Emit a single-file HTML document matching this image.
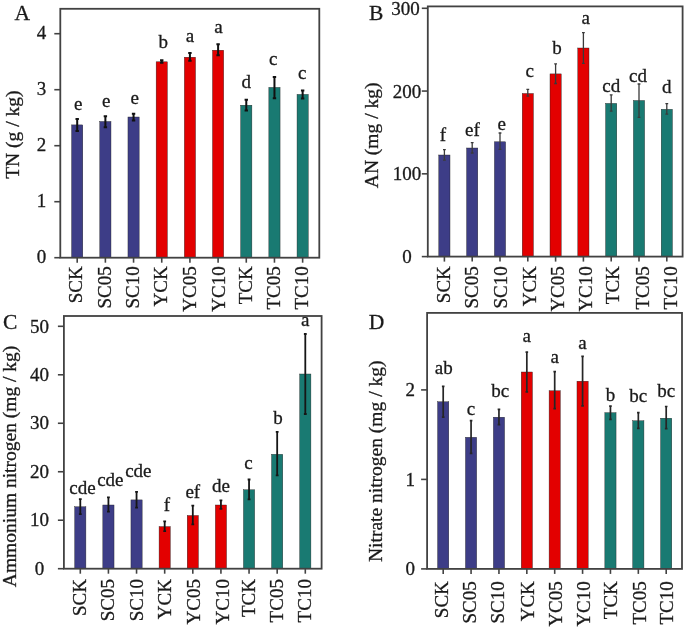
<!DOCTYPE html>
<html><head><meta charset="utf-8"><title>Nitrogen bar charts</title>
<style>
html,body{margin:0;padding:0;background:#fff;}
svg{display:block;filter:blur(0.6px);}
text{font-family:"Liberation Serif", serif;font-size:19px;fill:#1a1a1a;stroke:#1a1a1a;stroke-width:0.3px;}
</style></head>
<body>
<svg width="685" height="629" viewBox="0 0 685 629">
<rect width="685" height="629" fill="#fff"/>
<rect x="71.60" y="124.90" width="11.2" height="132.80" fill="#3d3d87" stroke="#222" stroke-width="0.4"/>
<rect x="99.78" y="121.50" width="11.2" height="136.20" fill="#3d3d87" stroke="#222" stroke-width="0.4"/>
<rect x="127.96" y="117.00" width="11.2" height="140.70" fill="#3d3d87" stroke="#222" stroke-width="0.4"/>
<rect x="156.14" y="61.80" width="11.2" height="195.90" fill="#e30000" stroke="#222" stroke-width="0.4"/>
<rect x="184.32" y="57.20" width="11.2" height="200.50" fill="#e30000" stroke="#222" stroke-width="0.4"/>
<rect x="212.50" y="50.20" width="11.2" height="207.50" fill="#e30000" stroke="#222" stroke-width="0.4"/>
<rect x="240.68" y="105.20" width="11.2" height="152.50" fill="#197a72" stroke="#222" stroke-width="0.4"/>
<rect x="268.86" y="87.40" width="11.2" height="170.30" fill="#197a72" stroke="#222" stroke-width="0.4"/>
<rect x="297.04" y="94.40" width="11.2" height="163.30" fill="#197a72" stroke="#222" stroke-width="0.4"/>
<path d="M77.20 118.90V130.90M75.50 118.90H78.90M75.50 130.90H78.90" stroke="#111" stroke-width="2.0" fill="none"/>
<text x="78.10" y="110.20" text-anchor="middle">e</text>
<path d="M105.38 116.30V127.30M103.68 116.30H107.08M103.68 127.30H107.08" stroke="#111" stroke-width="2.0" fill="none"/>
<text x="106.18" y="106.50" text-anchor="middle">e</text>
<path d="M133.56 113.80V120.60M131.86 113.80H135.26M131.86 120.60H135.26" stroke="#111" stroke-width="2.0" fill="none"/>
<text x="134.66" y="103.80" text-anchor="middle">e</text>
<path d="M161.74 60.20V62.70M160.04 60.20H163.44M160.04 62.70H163.44" stroke="#111" stroke-width="2.0" fill="none"/>
<text x="163.34" y="48.00" text-anchor="middle">b</text>
<path d="M189.92 53.10V60.70M188.22 53.10H191.62M188.22 60.70H191.62" stroke="#111" stroke-width="2.0" fill="none"/>
<text x="189.92" y="41.50" text-anchor="middle">a</text>
<path d="M218.10 44.30V55.20M216.40 44.30H219.80M216.40 55.20H219.80" stroke="#111" stroke-width="2.0" fill="none"/>
<text x="218.50" y="33.00" text-anchor="middle">a</text>
<path d="M246.28 99.70V110.40M244.58 99.70H247.98M244.58 110.40H247.98" stroke="#111" stroke-width="2.0" fill="none"/>
<text x="246.28" y="88.00" text-anchor="middle">d</text>
<path d="M274.46 77.00V98.30M272.76 77.00H276.16M272.76 98.30H276.16" stroke="#111" stroke-width="2.0" fill="none"/>
<text x="273.16" y="65.10" text-anchor="middle">c</text>
<path d="M302.64 90.50V98.60M300.94 90.50H304.34M300.94 98.60H304.34" stroke="#111" stroke-width="2.0" fill="none"/>
<text x="302.24" y="79.40" text-anchor="middle">c</text>
<rect x="60.3" y="8.8" width="259.00" height="248.90" fill="none" stroke="#424242" stroke-width="1.8"/>
<path d="M54.30 257.70H60.3" stroke="#424242" stroke-width="1.6"/>
<text x="41.60" y="262.80" text-anchor="middle">0</text>
<path d="M54.30 201.70H60.3" stroke="#424242" stroke-width="1.6"/>
<text x="41.60" y="206.80" text-anchor="middle">1</text>
<path d="M54.30 145.70H60.3" stroke="#424242" stroke-width="1.6"/>
<text x="41.60" y="150.80" text-anchor="middle">2</text>
<path d="M54.30 89.70H60.3" stroke="#424242" stroke-width="1.6"/>
<text x="41.60" y="94.80" text-anchor="middle">3</text>
<path d="M54.30 33.70H60.3" stroke="#424242" stroke-width="1.6"/>
<text x="41.60" y="38.80" text-anchor="middle">4</text>
<path d="M77.20 257.7V262.70" stroke="#424242" stroke-width="1.6"/>
<text transform="translate(82.10 266.30) rotate(-90)" text-anchor="end">SCK</text>
<path d="M105.38 257.7V262.70" stroke="#424242" stroke-width="1.6"/>
<text transform="translate(110.73 266.30) rotate(-90)" text-anchor="end">SC05</text>
<path d="M133.56 257.7V262.70" stroke="#424242" stroke-width="1.6"/>
<text transform="translate(139.46 266.30) rotate(-90)" text-anchor="end">SC10</text>
<path d="M161.74 257.7V262.70" stroke="#424242" stroke-width="1.6"/>
<text transform="translate(167.29 266.30) rotate(-90)" text-anchor="end">YCK</text>
<path d="M189.92 257.7V262.70" stroke="#424242" stroke-width="1.6"/>
<text transform="translate(196.12 266.30) rotate(-90)" text-anchor="end">YC05</text>
<path d="M218.10 257.7V262.70" stroke="#424242" stroke-width="1.6"/>
<text transform="translate(225.00 266.30) rotate(-90)" text-anchor="end">YC10</text>
<path d="M246.28 257.7V262.70" stroke="#424242" stroke-width="1.6"/>
<text transform="translate(251.98 266.30) rotate(-90)" text-anchor="end">TCK</text>
<path d="M274.46 257.7V262.70" stroke="#424242" stroke-width="1.6"/>
<text transform="translate(280.26 266.30) rotate(-90)" text-anchor="end">TC05</text>
<path d="M302.64 257.7V262.70" stroke="#424242" stroke-width="1.6"/>
<text transform="translate(307.74 266.30) rotate(-90)" text-anchor="end">TC10</text>
<text transform="translate(19.2 178.8) rotate(-90)" style="font-size:19.5px">TN (g / kg)</text>
<text x="14.6" y="19.5" style="font-size:21.5px">A</text>
<rect x="438.80" y="155.00" width="11.2" height="101.60" fill="#3d3d87" stroke="#222" stroke-width="0.4"/>
<rect x="466.60" y="148.00" width="11.2" height="108.60" fill="#3d3d87" stroke="#222" stroke-width="0.4"/>
<rect x="494.40" y="141.80" width="11.2" height="114.80" fill="#3d3d87" stroke="#222" stroke-width="0.4"/>
<rect x="522.20" y="93.50" width="11.2" height="163.10" fill="#e30000" stroke="#222" stroke-width="0.4"/>
<rect x="550.00" y="73.90" width="11.2" height="182.70" fill="#e30000" stroke="#222" stroke-width="0.4"/>
<rect x="577.80" y="48.00" width="11.2" height="208.60" fill="#e30000" stroke="#222" stroke-width="0.4"/>
<rect x="605.60" y="103.40" width="11.2" height="153.20" fill="#197a72" stroke="#222" stroke-width="0.4"/>
<rect x="633.40" y="100.50" width="11.2" height="156.10" fill="#197a72" stroke="#222" stroke-width="0.4"/>
<rect x="661.20" y="109.30" width="11.2" height="147.30" fill="#197a72" stroke="#222" stroke-width="0.4"/>
<path d="M444.40 149.70V160.20M443.00 149.70H445.80M443.00 160.20H445.80" stroke="#3a3a3a" stroke-width="1.3" fill="none"/>
<text x="443.00" y="141.20" text-anchor="middle">f</text>
<path d="M472.20 142.60V153.00M470.80 142.60H473.60M470.80 153.00H473.60" stroke="#3a3a3a" stroke-width="1.3" fill="none"/>
<text x="472.50" y="136.00" text-anchor="middle">ef</text>
<path d="M500.00 133.00V149.40M498.60 133.00H501.40M498.60 149.40H501.40" stroke="#3a3a3a" stroke-width="1.3" fill="none"/>
<text x="501.60" y="130.00" text-anchor="middle">e</text>
<path d="M527.80 89.40V96.20M526.40 89.40H529.20M526.40 96.20H529.20" stroke="#3a3a3a" stroke-width="1.3" fill="none"/>
<text x="529.80" y="76.90" text-anchor="middle">c</text>
<path d="M555.60 63.90V83.50M554.20 63.90H557.00M554.20 83.50H557.00" stroke="#3a3a3a" stroke-width="1.3" fill="none"/>
<text x="557.10" y="53.90" text-anchor="middle">b</text>
<path d="M583.40 32.60V63.30M582.00 32.60H584.80M582.00 63.30H584.80" stroke="#3a3a3a" stroke-width="1.3" fill="none"/>
<text x="585.70" y="24.00" text-anchor="middle">a</text>
<path d="M611.20 94.80V111.20M609.80 94.80H612.60M609.80 111.20H612.60" stroke="#3a3a3a" stroke-width="1.3" fill="none"/>
<text x="611.20" y="92.00" text-anchor="middle">cd</text>
<path d="M639.00 84.00V117.40M637.60 84.00H640.40M637.60 117.40H640.40" stroke="#3a3a3a" stroke-width="1.3" fill="none"/>
<text x="638.00" y="81.50" text-anchor="middle">cd</text>
<path d="M666.80 103.60V114.10M665.40 103.60H668.20M665.40 114.10H668.20" stroke="#3a3a3a" stroke-width="1.3" fill="none"/>
<text x="666.80" y="93.30" text-anchor="middle">d</text>
<rect x="427.8" y="6.4" width="254.80" height="250.20" fill="none" stroke="#424242" stroke-width="1.8"/>
<path d="M421.80 256.60H427.8" stroke="#424242" stroke-width="1.6"/>
<text x="407.00" y="263.10" text-anchor="middle">0</text>
<path d="M421.80 173.83H427.8" stroke="#424242" stroke-width="1.6"/>
<text x="407.00" y="180.33" text-anchor="middle">100</text>
<path d="M421.80 91.06H427.8" stroke="#424242" stroke-width="1.6"/>
<text x="407.00" y="97.56" text-anchor="middle">200</text>
<path d="M421.80 8.29H427.8" stroke="#424242" stroke-width="1.6"/>
<text x="405.50" y="15.39" text-anchor="middle">300</text>
<path d="M444.40 256.6V261.60" stroke="#424242" stroke-width="1.6"/>
<text transform="translate(449.70 266.20) rotate(-90)" text-anchor="end">SCK</text>
<path d="M472.20 256.6V261.60" stroke="#424242" stroke-width="1.6"/>
<text transform="translate(477.50 266.20) rotate(-90)" text-anchor="end">SC05</text>
<path d="M500.00 256.6V261.60" stroke="#424242" stroke-width="1.6"/>
<text transform="translate(506.80 266.20) rotate(-90)" text-anchor="end">SC10</text>
<path d="M527.80 256.6V261.60" stroke="#424242" stroke-width="1.6"/>
<text transform="translate(535.70 266.20) rotate(-90)" text-anchor="end">YCK</text>
<path d="M555.60 256.6V261.60" stroke="#424242" stroke-width="1.6"/>
<text transform="translate(564.10 266.20) rotate(-90)" text-anchor="end">YC05</text>
<path d="M583.40 256.6V261.60" stroke="#424242" stroke-width="1.6"/>
<text transform="translate(592.20 266.20) rotate(-90)" text-anchor="end">YC10</text>
<path d="M611.20 256.6V261.60" stroke="#424242" stroke-width="1.6"/>
<text transform="translate(619.40 266.20) rotate(-90)" text-anchor="end">TCK</text>
<path d="M639.00 256.6V261.60" stroke="#424242" stroke-width="1.6"/>
<text transform="translate(648.50 266.20) rotate(-90)" text-anchor="end">TC05</text>
<path d="M666.80 256.6V261.60" stroke="#424242" stroke-width="1.6"/>
<text transform="translate(676.50 266.20) rotate(-90)" text-anchor="end">TC10</text>
<text transform="translate(378.0 188.2) rotate(-90)" style="font-size:19.5px">AN (mg / kg)</text>
<text x="369.0" y="19.8" style="font-size:21.5px">B</text>
<rect x="74.70" y="506.80" width="11.2" height="61.90" fill="#3d3d87" stroke="#222" stroke-width="0.4"/>
<rect x="102.83" y="505.00" width="11.2" height="63.70" fill="#3d3d87" stroke="#222" stroke-width="0.4"/>
<rect x="130.95" y="499.90" width="11.2" height="68.80" fill="#3d3d87" stroke="#222" stroke-width="0.4"/>
<rect x="159.08" y="526.60" width="11.2" height="42.10" fill="#e30000" stroke="#222" stroke-width="0.4"/>
<rect x="187.20" y="515.50" width="11.2" height="53.20" fill="#e30000" stroke="#222" stroke-width="0.4"/>
<rect x="215.33" y="505.00" width="11.2" height="63.70" fill="#e30000" stroke="#222" stroke-width="0.4"/>
<rect x="243.45" y="489.80" width="11.2" height="78.90" fill="#197a72" stroke="#222" stroke-width="0.4"/>
<rect x="271.57" y="454.30" width="11.2" height="114.40" fill="#197a72" stroke="#222" stroke-width="0.4"/>
<rect x="299.70" y="374.00" width="11.2" height="194.70" fill="#197a72" stroke="#222" stroke-width="0.4"/>
<path d="M80.30 499.20V514.10M78.90 499.20H81.70M78.90 514.10H81.70" stroke="#161616" stroke-width="1.8" fill="none"/>
<text x="82.40" y="493.60" text-anchor="middle">cde</text>
<path d="M108.42 497.40V511.60M107.02 497.40H109.83M107.02 511.60H109.83" stroke="#161616" stroke-width="1.8" fill="none"/>
<text x="110.33" y="486.00" text-anchor="middle">cde</text>
<path d="M136.55 491.90V507.70M135.15 491.90H137.95M135.15 507.70H137.95" stroke="#161616" stroke-width="1.8" fill="none"/>
<text x="138.35" y="477.20" text-anchor="middle">cde</text>
<path d="M164.68 521.40V531.20M163.28 521.40H166.08M163.28 531.20H166.08" stroke="#161616" stroke-width="1.8" fill="none"/>
<text x="166.88" y="511.30" text-anchor="middle">f</text>
<path d="M192.80 505.60V524.40M191.40 505.60H194.20M191.40 524.40H194.20" stroke="#161616" stroke-width="1.8" fill="none"/>
<text x="192.80" y="497.50" text-anchor="middle">ef</text>
<path d="M220.93 500.40V508.90M219.53 500.40H222.33M219.53 508.90H222.33" stroke="#161616" stroke-width="1.8" fill="none"/>
<text x="220.93" y="492.30" text-anchor="middle">de</text>
<path d="M249.05 479.50V499.40M247.65 479.50H250.45M247.65 499.40H250.45" stroke="#161616" stroke-width="1.8" fill="none"/>
<text x="248.35" y="469.40" text-anchor="middle">c</text>
<path d="M277.18 431.80V475.30M275.78 431.80H278.57M275.78 475.30H278.57" stroke="#161616" stroke-width="1.8" fill="none"/>
<text x="278.07" y="424.00" text-anchor="middle">b</text>
<path d="M305.30 334.00V414.00M303.90 334.00H306.70M303.90 414.00H306.70" stroke="#161616" stroke-width="1.8" fill="none"/>
<text x="305.30" y="326.00" text-anchor="middle">a</text>
<rect x="63.9" y="316.0" width="257.70" height="252.70" fill="none" stroke="#424242" stroke-width="1.8"/>
<path d="M57.90 568.70H63.9" stroke="#424242" stroke-width="1.6"/>
<text x="39.60" y="574.90" text-anchor="middle">0</text>
<path d="M57.90 520.22H63.9" stroke="#424242" stroke-width="1.6"/>
<text x="39.60" y="526.42" text-anchor="middle">10</text>
<path d="M57.90 471.74H63.9" stroke="#424242" stroke-width="1.6"/>
<text x="39.60" y="477.94" text-anchor="middle">20</text>
<path d="M57.90 423.26H63.9" stroke="#424242" stroke-width="1.6"/>
<text x="39.60" y="429.46" text-anchor="middle">30</text>
<path d="M57.90 374.78H63.9" stroke="#424242" stroke-width="1.6"/>
<text x="39.60" y="380.98" text-anchor="middle">40</text>
<path d="M57.90 326.30H63.9" stroke="#424242" stroke-width="1.6"/>
<text x="39.60" y="332.50" text-anchor="middle">50</text>
<path d="M80.30 568.7V573.70" stroke="#424242" stroke-width="1.6"/>
<text transform="translate(85.80 579.10) rotate(-90)" text-anchor="end">SCK</text>
<path d="M108.42 568.7V573.70" stroke="#424242" stroke-width="1.6"/>
<text transform="translate(113.92 579.10) rotate(-90)" text-anchor="end">SC05</text>
<path d="M136.55 568.7V573.70" stroke="#424242" stroke-width="1.6"/>
<text transform="translate(142.55 579.10) rotate(-90)" text-anchor="end">SC10</text>
<path d="M164.68 568.7V573.70" stroke="#424242" stroke-width="1.6"/>
<text transform="translate(171.38 579.10) rotate(-90)" text-anchor="end">YCK</text>
<path d="M192.80 568.7V573.70" stroke="#424242" stroke-width="1.6"/>
<text transform="translate(199.80 579.10) rotate(-90)" text-anchor="end">YC05</text>
<path d="M220.93 568.7V573.70" stroke="#424242" stroke-width="1.6"/>
<text transform="translate(228.73 579.10) rotate(-90)" text-anchor="end">YC10</text>
<path d="M249.05 568.7V573.70" stroke="#424242" stroke-width="1.6"/>
<text transform="translate(254.55 579.10) rotate(-90)" text-anchor="end">TCK</text>
<path d="M277.18 568.7V573.70" stroke="#424242" stroke-width="1.6"/>
<text transform="translate(283.18 579.10) rotate(-90)" text-anchor="end">TC05</text>
<path d="M305.30 568.7V573.70" stroke="#424242" stroke-width="1.6"/>
<text transform="translate(311.30 579.10) rotate(-90)" text-anchor="end">TC10</text>
<text transform="translate(15.5 587.2) rotate(-90)" style="font-size:19.5px">Ammonium nitrogen (mg / kg)</text>
<text x="3.0" y="329.0" style="font-size:21.5px">C</text>
<rect x="437.60" y="401.80" width="11.2" height="167.10" fill="#3d3d87" stroke="#222" stroke-width="0.4"/>
<rect x="465.47" y="437.30" width="11.2" height="131.60" fill="#3d3d87" stroke="#222" stroke-width="0.4"/>
<rect x="493.35" y="417.20" width="11.2" height="151.70" fill="#3d3d87" stroke="#222" stroke-width="0.4"/>
<rect x="521.23" y="372.00" width="11.2" height="196.90" fill="#e30000" stroke="#222" stroke-width="0.4"/>
<rect x="549.10" y="390.80" width="11.2" height="178.10" fill="#e30000" stroke="#222" stroke-width="0.4"/>
<rect x="576.98" y="381.20" width="11.2" height="187.70" fill="#e30000" stroke="#222" stroke-width="0.4"/>
<rect x="604.85" y="412.70" width="11.2" height="156.20" fill="#197a72" stroke="#222" stroke-width="0.4"/>
<rect x="632.73" y="420.80" width="11.2" height="148.10" fill="#197a72" stroke="#222" stroke-width="0.4"/>
<rect x="660.60" y="418.20" width="11.2" height="150.70" fill="#197a72" stroke="#222" stroke-width="0.4"/>
<path d="M443.20 386.30V417.20M441.90 386.30H444.50M441.90 417.20H444.50" stroke="#262626" stroke-width="1.7" fill="none"/>
<text x="443.70" y="374.30" text-anchor="middle">ab</text>
<path d="M471.07 420.60V453.30M469.77 420.60H472.38M469.77 453.30H472.38" stroke="#262626" stroke-width="1.7" fill="none"/>
<text x="471.07" y="415.00" text-anchor="middle">c</text>
<path d="M498.95 409.30V424.60M497.65 409.30H500.25M497.65 424.60H500.25" stroke="#262626" stroke-width="1.7" fill="none"/>
<text x="500.25" y="396.60" text-anchor="middle">bc</text>
<path d="M526.83 352.10V391.90M525.53 352.10H528.12M525.53 391.90H528.12" stroke="#262626" stroke-width="1.7" fill="none"/>
<text x="526.83" y="341.70" text-anchor="middle">a</text>
<path d="M554.70 371.70V408.70M553.40 371.70H556.00M553.40 408.70H556.00" stroke="#262626" stroke-width="1.7" fill="none"/>
<text x="554.70" y="363.00" text-anchor="middle">a</text>
<path d="M582.58 356.30V405.90M581.28 356.30H583.88M581.28 405.90H583.88" stroke="#262626" stroke-width="1.7" fill="none"/>
<text x="582.58" y="349.20" text-anchor="middle">a</text>
<path d="M610.45 406.10V419.40M609.15 406.10H611.75M609.15 419.40H611.75" stroke="#262626" stroke-width="1.7" fill="none"/>
<text x="610.45" y="401.30" text-anchor="middle">b</text>
<path d="M638.33 412.70V428.40M637.03 412.70H639.62M637.03 428.40H639.62" stroke="#262626" stroke-width="1.7" fill="none"/>
<text x="638.33" y="401.60" text-anchor="middle">bc</text>
<path d="M666.20 406.50V428.70M664.90 406.50H667.50M664.90 428.70H667.50" stroke="#262626" stroke-width="1.7" fill="none"/>
<text x="666.20" y="397.00" text-anchor="middle">bc</text>
<rect x="427.1" y="312.9" width="254.90" height="256.00" fill="none" stroke="#424242" stroke-width="1.8"/>
<path d="M421.10 568.90H427.1" stroke="#424242" stroke-width="1.6"/>
<text x="410.30" y="575.10" text-anchor="middle">0</text>
<path d="M421.10 479.40H427.1" stroke="#424242" stroke-width="1.6"/>
<text x="410.30" y="485.60" text-anchor="middle">1</text>
<path d="M421.10 389.90H427.1" stroke="#424242" stroke-width="1.6"/>
<text x="410.30" y="396.10" text-anchor="middle">2</text>
<path d="M443.20 568.9V573.90" stroke="#424242" stroke-width="1.6"/>
<text transform="translate(447.70 581.20) rotate(-90)" text-anchor="end">SCK</text>
<path d="M471.07 568.9V573.90" stroke="#424242" stroke-width="1.6"/>
<text transform="translate(475.57 581.20) rotate(-90)" text-anchor="end">SC05</text>
<path d="M498.95 568.9V573.90" stroke="#424242" stroke-width="1.6"/>
<text transform="translate(504.25 581.20) rotate(-90)" text-anchor="end">SC10</text>
<path d="M526.83 568.9V573.90" stroke="#424242" stroke-width="1.6"/>
<text transform="translate(533.93 581.20) rotate(-90)" text-anchor="end">YCK</text>
<path d="M554.70 568.9V573.90" stroke="#424242" stroke-width="1.6"/>
<text transform="translate(562.20 581.20) rotate(-90)" text-anchor="end">YC05</text>
<path d="M582.58 568.9V573.90" stroke="#424242" stroke-width="1.6"/>
<text transform="translate(590.48 581.20) rotate(-90)" text-anchor="end">YC10</text>
<path d="M610.45 568.9V573.90" stroke="#424242" stroke-width="1.6"/>
<text transform="translate(617.25 581.20) rotate(-90)" text-anchor="end">TCK</text>
<path d="M638.33 568.9V573.90" stroke="#424242" stroke-width="1.6"/>
<text transform="translate(645.53 581.20) rotate(-90)" text-anchor="end">TC05</text>
<path d="M666.20 568.9V573.90" stroke="#424242" stroke-width="1.6"/>
<text transform="translate(673.40 581.20) rotate(-90)" text-anchor="end">TC10</text>
<text transform="translate(382.4 562.0) rotate(-90)" style="font-size:19.5px">Nitrate nitrogen (mg / kg)</text>
<text x="368.8" y="329.0" style="font-size:21.5px">D</text>
</svg>
</body></html>
